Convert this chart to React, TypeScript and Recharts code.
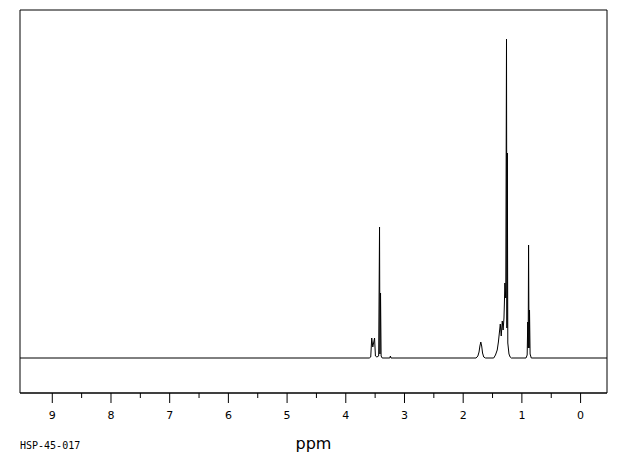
import { Line, LineChart, ReferenceArea, XAxis, YAxis } from 'recharts';

// chemical shift (ppm) and signal height
const shifts = [
  9.55, 3.6, 3.575, 3.558, 3.54, 3.51, 3.495, 3.47, 3.44, 3.425, 3.418, 3.408, 3.398, 3.38,
  3.25, 3.24, 3.23, 1.78, 1.75, 1.73, 1.715, 1.7, 1.685, 1.67, 1.65, 1.62, 1.48, 1.45, 1.42,
  1.4, 1.368, 1.352, 1.334, 1.32, 1.305, 1.298, 1.29, 1.275, 1.262, 1.255, 1.248, 1.24, 1.22,
  1.2, 1.18, 0.93, 0.91, 0.9, 0.893, 0.886, 0.878, 0.87, 0.86, 0.84, -0.45,
];
const heights = [
  0, 0, 1, 20, 11, 20, 2, 1, 2, 131, 4, 65, 2, 0,
  0, 2, 0, 0, 2, 6, 12, 16, 12, 5, 1, 0, 0, 3, 8,
  16, 34, 22, 37, 28, 40, 55, 75, 60, 319, 30, 205, 15, 4,
  1, 0, 0, 3, 36, 10, 113, 10, 48, 4, 0, 0,
];
const tickValues = [0, 0.5, 1, 1.5, 2, 2.5, 3, 3.5, 4, 4.5, 5, 5.5, 6, 6.5, 7, 7.5, 8, 8.5, 9];
const spectrumId = 'HSP-45-017';

const data = shifts.map((ppm, i) => ({ ppm, h: heights[i] }));

function PpmTick({ x, y, payload }: any) {
  const v = payload.value as number;
  const major = Number.isInteger(v);
  return (
    <g>
      <line x1={x} x2={x} y1={y} y2={y + (major ? 10 : 5)} stroke="#000" />
      {major && (
        <text x={x} y={y + 26} textAnchor="middle" fontSize={11} fill="#000" fontFamily="DejaVu Sans">
          {v}
        </text>
      )}
    </g>
  );
}

export default function App() {
  return (
    <div style={{ position: 'absolute', left: 0, top: 0, width: 620, height: 455, background: '#fff' }}>
      <LineChart width={620} height={455} data={data} margin={{ top: 10, right: 13, bottom: 0, left: 20 }}>
        <XAxis
          dataKey="ppm"
          type="number"
          reversed
          domain={[-0.45, 9.55]}
          allowDataOverflow
          ticks={tickValues}
          interval={0}
          tickLine={false}
          tickSize={0}
          tickMargin={0}
          tick={<PpmTick />}
          axisLine={{ stroke: '#000' }}
          height={62}
          label={{
            value: 'ppm',
            position: 'insideBottom',
            offset: 6,
            fontSize: 16,
            fill: '#000',
            fontFamily: 'DejaVu Sans',
          }}
        />
        <YAxis hide domain={[-35, 348]} allowDataOverflow />
        <ReferenceArea x1={-0.45} x2={9.55} y1={-35} y2={348} stroke="#000" fill="none" ifOverflow="visible" />
        <Line
          type="linear"
          dataKey="h"
          stroke="#000"
          strokeWidth={1}
          dot={false}
          isAnimationActive={false}
        />
      </LineChart>
      <div
        style={{
          position: 'absolute',
          left: 20,
          top: 440,
          fontFamily: 'DejaVu Sans Mono',
          fontSize: 10,
          color: '#000',
        }}
      >
        {spectrumId}
      </div>
    </div>
  );
}
